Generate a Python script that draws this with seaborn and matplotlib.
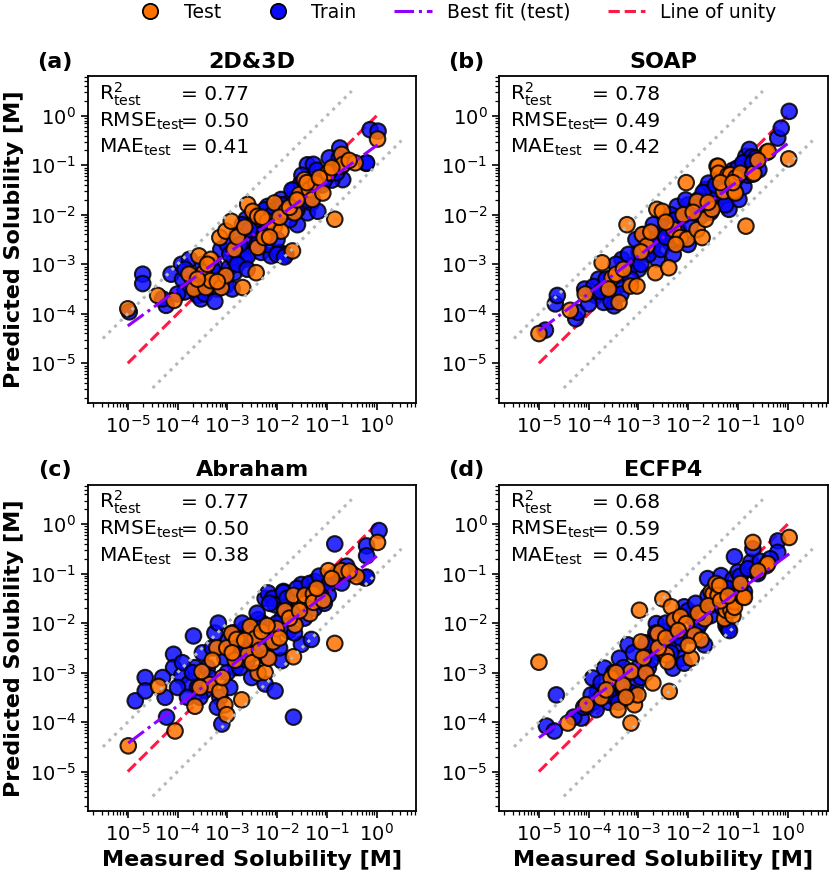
import numpy as np
import pandas as pd
import matplotlib
matplotlib.use("Agg")
import matplotlib.pyplot as plt
from matplotlib.lines import Line2D
from matplotlib.ticker import LogLocator, NullFormatter
import seaborn as sns

# log10 values (measured, predicted)
test_meas_a = [-5.0, -4.4, -4.07, -3.77, -3.67, -3.57, -3.47, -3.43, -3.33, -3.33, -3.15, -3.12, -3.03, -3.03,
               -2.92, -2.86, -2.69, -2.59, -2.49, -2.42, -2.39, -2.39, -2.26, -2.19, -2.05, -2.05, -1.92, -1.82,
               -1.69, -1.65, -1.55, -1.45, -1.35, -1.29, -1.22, -1.08, -0.98, -0.97, -0.84, -0.71, -0.70, -0.67,
               -0.43, 0.02, -3.6, -3.4, -3.2, -2.8, -2.65, -2.3, -2.15, -1.95, -1.75, -1.6, -1.4, -1.15, -0.9,
               -0.55]
test_pred_a = [-3.9, -3.63, -3.73, -3.2, -3.5, -2.83, -3.17, -3.47, -2.9, -3.33, -2.46, -3.47, -3.23, -2.33,
               -2.13, -2.7, -3.47, -1.79, -1.93, -3.17, -2.66, -2.03, -2.46, -2.13, -1.76, -2.23, -2.33, -1.93,
               -2.73, -1.96, -1.59, -1.29, -1.49, -1.69, -1.36, -1.56, -1.16, -1.15, -2.09, -1.02, -0.78, -0.98,
               -0.95, -0.47, -3.3, -3.0, -3.35, -2.45, -2.25, -2.05, -2.45, -2.05, -1.85, -1.7, -1.35, -1.25, -1.05,
               -0.9]
train_meas_a = [-4.97, -4.7, -4.7, -4.23, -4.13, -3.92, -3.86, -3.76, -3.59, -3.53, -3.26, -3.13, -3.03, -2.96,
                -2.86, -2.86, -2.72, -2.65, -2.62, -2.59, -2.52, -2.46, -2.32, -2.32, -2.19, -2.12, -2.02, -1.95,
                -1.92, -1.82, -1.82, -1.65, -1.59, -1.52, -1.39, -1.39, -1.31, -1.27, -1.18, -0.98, -0.85, -0.74,
                -0.68, -0.21, -0.2, -0.13, 0.03, -3.4, -3.2, -3.0, -2.8, -2.7, -2.4, -2.2, -2.0, -1.7, -1.6,
                -1.45, -1.1, -0.9, -3.6, -3.9,
                -3.7, -3.5, -3.45, -3.3, -3.25, -3.1, -2.95, -2.9, -2.8, -2.75, -2.6, -2.55, -2.45, -2.4, -2.25,
                -2.2, -2.1, -2.0, -1.9, -1.75, -1.7, -1.6, -1.5, -1.4, -1.25, -1.2, -1.05, -0.95, -0.8, -0.75,
                -4.0, -4.3, -3.85, -2.0, -1.85]
train_pred_a = [-3.96, -3.2, -3.39, -3.83, -3.2, -3.0, -3.56, -2.9, -3.63, -3.7, -3.03, -2.7, -3.43, -3.07,
                -2.9, -3.17, -2.7, -2.9, -2.09, -2.83, -2.5, -2.23, -2.03, -2.76, -1.83, -2.83, -1.89, -2.76,
                -1.69, -1.79, -2.8, -1.49, -2.2, -1.36, -1.96, -0.99, -1.76, -0.98, -1.93, -1.22, -1.02, -0.65,
                -1.29, -0.96, -0.95, -0.28, -0.31, -3.3, -3.5, -2.6, -2.4, -2.2, -2.4, -2.2, -2.1, -1.7, -1.9,
                -1.6, -1.4, -1.3, -3.3, -3.3,
                -3.4, -3.0, -3.6, -3.1, -3.75, -3.3, -2.8, -3.5, -3.0, -2.6, -3.1, -2.3, -2.0, -2.6, -1.9,
                -2.6, -2.0, -2.5, -1.8, -2.1, -1.5, -1.8, -1.2, -1.7, -1.4, -1.1, -1.3, -0.85, -1.15, -0.85,
                -3.6, -3.7, -3.1, -2.8, -2.85]

test_meas_b = [-5.0, -4.37, -4.07, -3.73, -3.53, -3.39, -3.23, -3.16, -3.03, -2.92, -2.83, -2.66, -2.63, -2.52,
               -2.39, -2.29, -2.16, -2.04, -2.02, -1.82, -1.82, -1.72, -1.65, -1.52, -1.42, -1.4, -1.39, -1.29,
               -1.2, -1.15, -1.07, -1.05, -1.04, -0.95, -0.84, -0.70, -0.68, -0.42, -0.39, 0.02,
               -3.6, -3.45, -3.3, -2.95, -2.75, -2.45, -2.25, -2.1, -1.9, -1.6, -1.35, -1.1, -0.6]
test_pred_b = [-4.4, -3.93, -3.6, -2.97, -3.27, -3.77, -2.2, -3.44, -3.44, -2.4, -2.63, -3.17, -1.89, -1.93,
               -3.07, -2.3, -2.46, -1.35, -2.49, -2.3, -1.73, -2.46, -2.09, -1.89, -1.02, -1.02, -1.16, -1.53,
               -1.2, -1.19, -1.52, -1.56, -1.25, -1.16, -2.23, -1.18, -1.16, -0.74, -0.72, -0.87,
               -3.5, -3.2, -3.1, -2.75, -2.35, -2.15, -2.6, -2.0, -1.95, -1.75, -1.35, -1.35, -0.9]
train_meas_b = [-4.87, -4.67, -4.63, -4.26, -4.22, -4.08, -3.86, -3.7, -3.6, -3.49, -3.43, -3.33, -3.13, -2.99,
                -2.85, -2.72, -2.62, -2.52, -2.46, -2.36, -2.22, -2.12, -1.92, -1.75, -1.65, -1.59, -1.45, -1.29,
                -1.18, -1.05, -0.98, -0.88, -0.85, -0.84, -0.77, -0.72, -0.64, -0.58, -0.2, -0.13, 0.03,
                -3.3, -3.0, -2.8, -2.6, -2.4, -2.2, -2.0, -1.8, -1.6, -1.5, -1.3, -1.1, -3.8, -3.5,
                -4.0, -3.9, -3.75, -3.65, -3.55, -3.45, -3.35, -3.2, -3.15, -3.05, -2.95, -2.9, -2.75, -2.7,
                -2.55, -2.45, -2.35, -2.25, -2.15, -2.05, -1.95, -1.85, -1.7, -1.55, -1.45, -1.35, -1.25, -1.15,
                -1.0, -0.9, -0.8, -0.7, -2.3, -2.0]
train_pred_b = [-4.33, -3.8, -3.63, -4.1, -3.97, -3.5, -3.63, -3.77, -3.5, -3.84, -3.23, -2.9, -3.03, -2.76,
                -2.49, -2.7, -2.9, -2.36, -2.09, -2.56, -1.83, -2.03, -1.96, -2.03, -1.49, -1.36, -1.76, -1.62,
                -1.89, -1.29, -1.69, -1.43, -0.96, -0.82, -0.68, -0.83, -0.85, -1.09, -0.45, -0.25, 0.09,
                -3.4, -3.1, -2.8, -2.5, -2.2, -2.3, -1.8, -1.7, -1.7, -1.5, -1.3, -1.1, -3.3, -3.6,
                -3.8, -3.45, -3.55, -3.3, -3.75, -3.0, -3.6, -2.8, -3.3, -2.5, -3.0, -2.4, -2.55, -2.2,
                -2.7, -2.45, -2.0, -2.1, -2.5, -1.7, -2.2, -1.85, -1.55, -1.95, -1.4, -1.15, -1.8, -1.4,
                -1.05, -0.95, -1.2, -0.95, -2.8, -2.6]

test_meas_c = [-4.99, -4.38, -4.05, -3.65, -3.51, -3.35, -3.21, -3.15, -3.05, -3.01, -3.01, -2.91, -2.84, -2.81,
               -2.71, -2.58, -2.54, -2.44, -2.38, -2.31, -2.24, -2.17, -2.08, -2.01, -1.84, -1.67, -1.67, -1.64,
               -1.44, -1.44, -1.34, -1.27, -1.27, -1.07, -0.97, -0.84, -0.7, -0.4, 0.02,
               -3.55, -3.3, -3.1, -2.9, -2.65, -2.5, -2.35, -2.2, -1.95, -1.75, -1.55, -1.2, -0.9, -0.55]
test_pred_c = [-4.48, -3.28, -4.18, -3.68, -2.98, -3.24, -2.5, -3.38, -3.65, -3.85, -2.5, -2.21, -2.75, -2.33,
               -3.55, -2.63, -2.07, -2.31, -3.01, -2.17, -3.0, -2.71, -2.38, -2.11, -1.75, -2.68, -1.44, -2.04,
               -1.61, -1.44, -1.81, -1.41, -1.58, -1.54, -0.94, -2.41, -0.94, -1.06, -0.37,
               -3.3, -2.75, -3.1, -2.6, -2.35, -2.8, -2.55, -2.05, -2.3, -1.9, -1.75, -1.3, -1.1, -0.95]
train_meas_c = [-4.85, -4.65, -4.65, -4.25, -4.22, -4.08, -4.08, -3.92, -3.78, -3.68, -3.65, -3.45, -3.25, -3.18,
                -3.15, -3.11, -2.98, -2.84, -2.78, -2.64, -2.58, -2.51, -2.38, -2.24, -2.24, -2.18, -2.09, -2.04,
                -2.04, -1.91, -1.87, -1.87, -1.77, -1.67, -1.51, -1.51, -1.31, -1.24, -0.97, -0.9, -0.84, -0.7,
                -0.23, -0.2, -0.2, -0.2, 0.05, -3.4, -3.0, -2.7, -2.5, -2.3, -2.1, -1.9, -1.7, -1.4, -1.1,
                -3.6, -2.9,
                -4.3, -4.0, -3.9, -3.8, -3.7, -3.55, -3.5, -3.35, -3.3, -3.2, -3.05, -2.95, -2.85, -2.75, -2.7,
                -2.6, -2.45, -2.4, -2.3, -2.2, -2.15, -2.0, -1.95, -1.85, -1.8, -1.65, -1.6, -1.45, -1.35, -1.25,
                -1.15, -1.05, -0.95, -0.8, -0.6, -0.5]
train_pred_c = [-3.57, -3.1, -3.37, -3.5, -3.9, -2.63, -2.9, -3.07, -3.23, -2.26, -2.9, -3.36, -2.2, -2.0,
                -3.5, -4.04, -2.36, -2.9, -2.63, -2.11, -2.5, -3.1, -1.93, -3.23, -1.5, -1.39, -1.5, -1.63,
                -3.37, -2.76, -1.36, -1.38, -2.16, -3.9, -1.22, -2.43, -2.33, -1.16, -1.43, -1.09, -0.4, -1.19,
                -1.09, -0.44, -0.64, -1.07, -0.13, -2.9, -3.0, -2.6, -2.4, -2.0, -2.3, -1.9, -1.8, -1.5, -1.3,
                -3.3, -2.2,
                -3.1, -3.3, -2.8, -3.5, -3.0, -3.5, -2.6, -3.1, -2.5, -3.7, -2.7, -3.3, -2.2, -2.9, -2.0,
                -2.75, -2.6, -1.8, -2.5, -2.7, -1.6, -2.0, -2.5, -1.7, -1.5, -2.2, -1.3, -1.9, -1.2, -1.7,
                -1.05, -1.6, -1.2, -1.0, -0.85, -1.0]

test_meas_d = [-5.0, -4.42, -4.05, -3.75, -3.55, -3.41, -3.31, -3.15, -3.15, -3.08, -3.01, -2.98, -2.95, -2.85,
               -2.71, -2.61, -2.51, -2.44, -2.41, -2.38, -2.34, -2.28, -2.15, -2.04, -1.94, -1.87, -1.74, -1.67,
               -1.54, -1.5, -1.44, -1.4, -1.37, -1.27, -1.24, -1.14, -1.1, -1.07, -1.07, -0.9, -0.87, -0.7,
               -0.43, -0.4, 0.03,
               -3.65, -3.45, -3.25, -2.9, -2.6, -2.45, -2.2, -2.0, -1.8, -1.6, -1.35, -1.2, -0.95, -0.6]
test_pred_d = [-2.79, -4.02, -3.65, -3.51, -3.11, -3.75, -3.25, -2.98, -4.02, -3.65, -3.45, -1.74, -2.38, -3.01,
               -3.21, -2.21, -1.51, -2.64, -2.78, -3.38, -1.67, -1.94, -1.87, -2.01, -2.71, -2.24, -2.34, -1.91,
               -1.37, -1.41, -1.2, -1.44, -1.24, -1.91, -1.74, -1.74, -1.85, -1.57, -1.68, -1.47, -1.48, -0.37,
               -0.84, -0.8, -0.27,
               -3.35, -3.0, -3.5, -2.7, -2.5, -2.3, -2.15, -2.45, -1.8, -1.65, -1.55, -1.45, -1.2, -0.95]
train_meas_d = [-4.85, -4.69, -4.65, -4.15, -4.02, -3.92, -3.82, -3.68, -3.55, -3.48, -3.38, -3.25, -3.21, -3.08,
                -3.05, -2.88, -2.74, -2.64, -2.48, -2.31, -2.21, -2.14, -2.08, -2.08, -1.97, -1.81, -1.67, -1.61,
                -1.51, -1.34, -1.24, -1.2, -1.17, -1.14, -1.1, -1.07, -1.0, -0.94, -0.87, -0.74, -0.7, -0.64,
                -0.6, -0.2, -0.2, -3.6, -3.3, -3.0, -2.8, -2.6, -2.4, -2.3, -1.9, -1.7, -1.4, -1.3, -3.9,
                -4.3, -4.1, -3.95, -3.85, -3.75, -3.6, -3.5, -3.4, -3.3, -3.15, -3.1, -2.95, -2.85, -2.75,
                -2.65, -2.55, -2.45, -2.35, -2.25, -2.15, -2.0, -1.95, -1.85, -1.75, -1.6, -1.55, -1.45, -1.3,
                -1.2, -1.05, -0.95, -0.8, -0.55, -0.35]
train_pred_d = [-4.08, -4.18, -3.45, -3.92, -3.68, -3.11, -3.38, -2.91, -3.31, -3.51, -2.71, -3.05, -2.44, -3.45,
                -3.25, -2.71, -2.51, -2.01, -2.17, -2.91, -2.44, -2.71, -1.67, -2.81, -1.84, -2.11, -2.44, -1.1,
                -1.64, -1.04, -2.05, -2.11, -2.15, -1.34, -1.11, -0.66, -0.97, -1.24, -1.37, -0.77, -0.5, -0.97,
                -1.0, -0.34, -0.57, -3.6, -3.3, -2.9, -2.9, -2.6, -2.4, -2.2, -1.9, -1.8, -1.5, -1.4, -3.6,
                -3.9, -3.7, -3.45, -3.75, -3.2, -3.45, -3.0, -3.6, -2.9, -3.4, -2.6, -3.1, -2.4, -2.75,
                -2.2, -2.45, -2.0, -2.6, -1.95, -2.3, -1.75, -2.25, -1.6, -2.0, -1.45, -1.85, -1.25, -1.7,
                -1.3, -1.45, -1.05, -0.9, -0.75, -0.7]

titles = ["2D&3D", "SOAP", "Abraham", "ECFP4"]
letters = ["(a)", "(b)", "(c)", "(d)"]
r2_test = ["0.77", "0.78", "0.77", "0.68"]
rmse_test = ["0.50", "0.49", "0.50", "0.59"]
mae_test = ["0.41", "0.42", "0.38", "0.45"]

panels = [
    (test_meas_a, test_pred_a, train_meas_a, train_pred_a),
    (test_meas_b, test_pred_b, train_meas_b, train_pred_b),
    (test_meas_c, test_pred_c, train_meas_c, train_pred_c),
    (test_meas_d, test_pred_d, train_meas_d, train_pred_d),
]

test_color = "#ff7200"
train_color = "#0a0aff"
fit_color = "#8f00ff"
unity_color = "#ff1a45"
band_color = "#b4b9b9"

sns.set_style("ticks")
plt.rcParams["font.family"] = ["DejaVu Sans"]
plt.rcParams.update({
    "axes.linewidth": 1.3,
    "text.color": "black",
    "axes.labelcolor": "black",
    "axes.edgecolor": "black",
    "xtick.color": "black",
    "ytick.color": "black",
})

fig, axes = plt.subplots(2, 2, figsize=(8.3, 8.76), dpi=100)
fig.subplots_adjust(left=0.106, right=0.997, bottom=0.074, top=0.913, wspace=0.252, hspace=0.25)

lo, hi = -5.8, 0.8

for i, ax in enumerate(axes.flat):
    tx, ty, rx, ry = panels[i]
    df = pd.concat([
        pd.DataFrame({"measured": np.power(10.0, rx), "predicted": np.power(10.0, ry), "set": "Train"}),
        pd.DataFrame({"measured": np.power(10.0, tx), "predicted": np.power(10.0, ty), "set": "Test"}),
    ], ignore_index=True)

    # unity line sits under the points
    ax.plot([1e-5, 1e0], [1e-5, 1e0], ls="--", color=unity_color, lw=2.2, zorder=1)

    sns.scatterplot(data=df, x="measured", y="predicted", hue="set",
                    palette={"Train": train_color, "Test": test_color},
                    s=125, edgecolor="black", linewidth=1.5, alpha=0.85,
                    legend=False, ax=ax, zorder=2)

    # one-decade bands
    ax.plot([10**-5.5, 10**-0.5], [10**-4.5, 10**0.5], ls=":", color=band_color, lw=2.2, zorder=3)
    ax.plot([10**-4.5, 10**0.5], [10**-5.5, 10**-0.5], ls=":", color=band_color, lw=2.2, zorder=3)

    # best fit on test set (log-log)
    slope, icpt = np.polyfit(tx, ty, 1)
    fx = np.array([min(tx), max(tx)])
    ax.plot(10**fx, 10**(slope * fx + icpt), ls="-.", color=fit_color, lw=2.2, zorder=4)

    ax.set_xscale("log")
    ax.set_yscale("log")
    ax.set_xlim(10**lo, 10**hi)
    ax.set_ylim(10**lo, 10**hi)
    for axis in (ax.xaxis, ax.yaxis):
        axis.set_major_locator(LogLocator(base=10, numticks=20))
        axis.set_minor_locator(LogLocator(base=10, subs=np.arange(2, 10), numticks=20))
        axis.set_minor_formatter(NullFormatter())
    ax.tick_params(axis="both", which="major", labelsize=14, length=5, width=1.2)
    ax.tick_params(axis="both", which="minor", length=3, width=0.9)

    ax.set_title(titles[i], fontsize=16, fontweight="bold", pad=6)
    ax.text(-0.10, 1.043, letters[i], transform=ax.transAxes, fontsize=16,
            fontweight="bold", ha="center", va="center")

    ax.set_xlabel("Measured Solubility [M]" if i >= 2 else "", fontsize=16, fontweight="bold")
    ax.set_ylabel("Predicted Solubility [M]" if i % 2 == 0 else "", fontsize=16, fontweight="bold")

    labels = [r"R$^2_\mathrm{test}$", r"RMSE$_\mathrm{test}$", r"MAE$_\mathrm{test}$"]
    values = [r2_test[i], rmse_test[i], mae_test[i]]
    for k, (lab, val) in enumerate(zip(labels, values)):
        yy = 0.927 - k * 0.081
        ax.text(0.034, yy, lab, transform=ax.transAxes, fontsize=14.5, va="baseline")
        ax.text(0.283, yy, "= " + val, transform=ax.transAxes, fontsize=14.5, va="baseline")

handles = [
    Line2D([], [], ls="none", marker="o", markersize=11, markerfacecolor=test_color,
           markeredgecolor="black", markeredgewidth=1.3, label="Test"),
    Line2D([], [], ls="none", marker="o", markersize=11, markerfacecolor=train_color,
           markeredgecolor="black", markeredgewidth=1.3, label="Train"),
    Line2D([], [], ls="-.", color=fit_color, lw=2.2, label="Best fit (test)"),
    Line2D([], [], ls="--", color=unity_color, lw=2.2, label="Line of unity"),
]
fig.legend(handles=handles, loc="center", bbox_to_anchor=(0.547, 0.986), ncol=4,
           frameon=False, fontsize=13.5, handlelength=2.0, handletextpad=0.8, columnspacing=2.0)

fig.savefig("out.png", dpi=100)
